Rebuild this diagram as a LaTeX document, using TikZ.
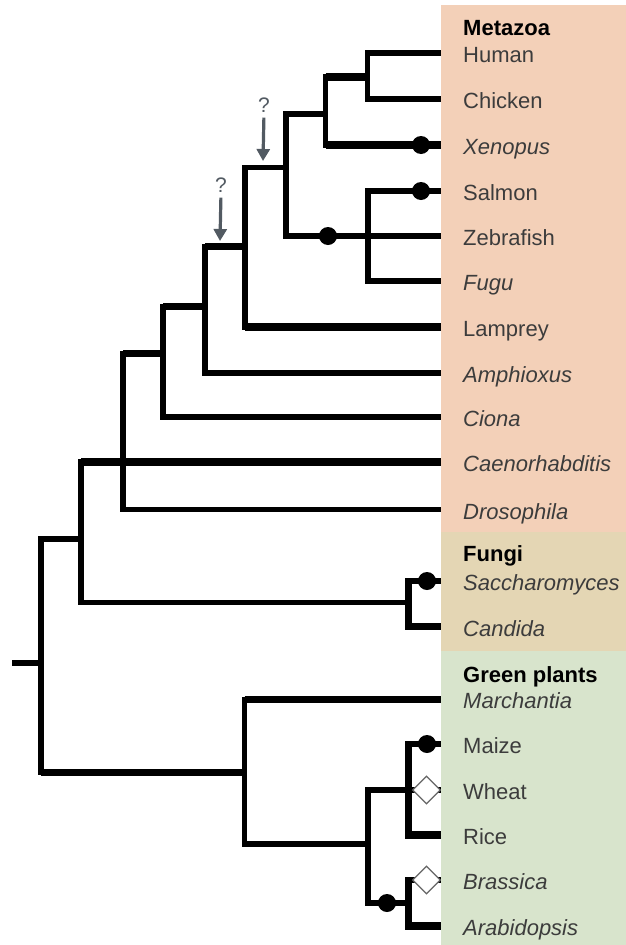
\documentclass[tikz,border=0pt]{standalone}
\usepackage{fontspec}
\setmainfont{Liberation Sans}
\usetikzlibrary{arrows.meta,shapes.geometric}
\definecolor{metaz}{RGB}{243,208,184}
\definecolor{fung}{RGB}{228,214,180}
\definecolor{plnt}{RGB}{216,228,204}
\definecolor{spc}{RGB}{60,60,60}
\definecolor{qgray}{RGB}{82,90,98}
\begin{document}
\begin{tikzpicture}[x=1pt,y=-1pt,
  vt/.style={line width=5.5pt, line cap=rect},
  vtk/.style={line width=7pt, line cap=rect},
  hz/.style={line width=5.5pt, line cap=butt},
  hzk/.style={line width=7.5pt, line cap=butt},
  bdot/.style={circle, fill=black, inner sep=0pt, minimum size=18pt},
  odia/.style={diamond, aspect=1, draw=black!60, fill=white, line width=1.2pt, inner sep=0pt, minimum width=28pt, minimum height=28pt},
  sp/.style={anchor=base west, inner sep=0pt, text=spc, font=\fontsize{22}{26}\selectfont},
  spi/.style={anchor=base west, inner sep=0pt, text=spc, font=\fontsize{22}{26}\selectfont\itshape},
  hd/.style={anchor=base west, inner sep=0pt, text=black, font=\fontsize{22}{26}\selectfont\bfseries},
  qm/.style={inner sep=0pt, text=qgray, font=\fontsize{21}{24}\selectfont},
  qarr/.style={draw=qgray, line width=3.2pt, -{Triangle[width=13pt,length=12pt]}, shorten <=5pt}
]
\useasboundingbox (0,0) rectangle (626,945);

% leaf end points (at panel edge)
\coordinate (Lhuman) at (441,53);
\coordinate (Lchick) at (441,99);
\coordinate (Lxen)   at (441,145);
\coordinate (Lsalm)  at (441,191);
\coordinate (Lzeb)   at (441,236);
\coordinate (Lfugu)  at (441,281);
\coordinate (Llamp)  at (441,327);
\coordinate (Lamph)  at (441,373);
\coordinate (Lciona) at (441,417);
\coordinate (Lcaeno) at (441,462);
\coordinate (Ldroso) at (441,509.5);
\coordinate (Lsacch) at (441,581);
\coordinate (Lcand)  at (441,626.5);
\coordinate (Lmarch) at (441,699.5);
\coordinate (Lmaize) at (441,744);
\coordinate (Lwheat) at (441,790);
\coordinate (Lrice)  at (441,835);
\coordinate (Lbrass) at (441,880);
\coordinate (Larab)  at (441,926);

% internal nodes (vertical x, stem y)
\coordinate (hc)     at (367.5,77);
\coordinate (hcx)    at (325.5,114);
\coordinate (fish)   at (368,236);
\coordinate (tetra)  at (286,167.5);
\coordinate (vert)   at (245,246.5);
\coordinate (olf)    at (205,306.5);
\coordinate (chord)  at (163,353.5);
\coordinate (bil)    at (123,462);
\coordinate (opis)   at (81,539);
\coordinate (fungi)  at (408.5,602.5);
\coordinate (root)   at (41,663);
\coordinate (stub)   at (12,663);
\coordinate (plants) at (244.5,772.5);
\coordinate (angio)  at (368,844);
\coordinate (mono)   at (408.5,790);
\coordinate (eudi)   at (408.5,903);

% verticals
\draw[vt]  (hc|-Lhuman) -- (hc|-Lchick);
\draw[vt]  (hcx|-hc) -- (hcx|-Lxen);
\draw[vt]  (tetra|-hcx) -- (tetra|-fish);
\draw[vt]  (fish|-Lsalm) -- (fish|-Lfugu);
\draw[vt]  (vert|-tetra) -- (vert|-Llamp);
\draw[vt]  (olf|-vert) -- (olf|-Lamph);
\draw[vt]  (chord|-olf) -- (chord|-Lciona);
\draw[vt]  (bil|-chord) -- (bil|-Ldroso);
\draw[vt]  (opis|-Lcaeno) -- (opis|-fungi);
\draw[vtk] (fungi|-Lsacch) -- (fungi|-Lcand);
\draw[vt]  (root|-opis) -- (root|-plants);
\draw[vt]  (plants|-Lmarch) -- (plants|-angio);
\draw[vt]  (angio|-mono) -- (angio|-eudi);
\draw[vtk] (mono|-Lmaize) -- (mono|-Lrice);
\draw[vtk] (eudi|-Lbrass) -- (eudi|-Larab);

% horizontals
\draw[hz]  (hc|-Lhuman) -- (Lhuman);
\draw[hz]  (hc|-Lchick) -- (Lchick);
\draw[hzk] (hcx|-hc) -- (hc);
\draw[hzk] (hcx|-Lxen) -- (Lxen);
\draw[hz]  (tetra|-hcx) -- (hcx);
\draw[hz]  (tetra|-fish) -- (fish);
\draw[hz]  (fish|-Lsalm) -- (Lsalm);
\draw[hz]  (fish) -- (Lzeb);
\draw[hz]  (fish|-Lfugu) -- (Lfugu);
\draw[hz]  (vert|-tetra) -- (tetra);
\draw[hzk] (vert|-Llamp) -- (Llamp);
\draw[hzk] (olf|-vert) -- (vert);
\draw[hz]  (olf|-Lamph) -- (Lamph);
\draw[hzk] (chord|-olf) -- (olf);
\draw[hz]  (chord|-Lciona) -- (Lciona);
\draw[hzk] (bil|-chord) -- (chord);
\draw[hz]  (bil|-Ldroso) -- (Ldroso);
\draw[hzk] (opis|-Lcaeno) -- (bil) -- (Lcaeno);
\draw[hz]  (opis|-fungi) -- (fungi);
\draw[hz]  (fungi|-Lsacch) -- (Lsacch);
\draw[hzk] (fungi|-Lcand) -- (Lcand);
\draw[hz]  (root|-opis) -- (opis);
\draw[hzk] (root|-plants) -- (plants);
\draw[hz]  (stub) -- (root);
\draw[hzk] (plants|-Lmarch) -- (Lmarch);
\draw[hz]  (plants|-angio) -- (angio);
\draw[hz]  (angio|-mono) -- (mono);
\draw[hz]  (angio|-eudi) -- (eudi);
\draw[hz]  (mono|-Lmaize) -- (Lmaize);
\draw[hz]  (mono|-Lwheat) -- (Lwheat);
\draw[hzk] (mono|-Lrice) -- (Lrice);
\draw[hz]  (eudi|-Lbrass) -- (Lbrass);
\draw[hzk] (eudi|-Larab) -- (Larab);

% markers
\node[bdot] (d1) at (421,145) {};
\node[bdot] (d2) at (421,191) {};
\node[bdot] (d3) at (328,236) {};
\node[bdot] (d4) at (427,581) {};
\node[bdot] (d5) at (427,744) {};
\node[bdot] (d6) at (387,903) {};
\node[odia] (w1) at (426.5,790) {};
\node[odia] (w2) at (426.5,880) {};

% question arrows
\node[qm] (q1) at (264,105) {?};
\coordinate (a1) at (263,161);
\draw[qarr] (q1.south) -- (a1);
\node[qm] (q2) at (221,185) {?};
\coordinate (a2) at (220,241);
\draw[qarr] (q2.south) -- (a2);

% panels
\fill[metaz] (441,5) rectangle (626,532);
\fill[fung]  (441,532) rectangle (626,651);
\fill[plnt]  (441,651) rectangle (626,945);

% labels
\node[hd]  (tmeta)  at (463,35)    {Metazoa};
\node[sp]  (thuman) at (463,62.5)  {Human};
\node[sp]  (tchick) at (463,108.5) {Chicken};
\node[spi] (txen)   at (463,154.5) {Xenopus};
\node[sp]  (tsalm)  at (463,200.5) {Salmon};
\node[sp]  (tzeb)   at (463,245.5) {Zebrafish};
\node[spi] (tfugu)  at (463,290.5) {Fugu};
\node[sp]  (tlamp)  at (463,336.5) {Lamprey};
\node[spi] (tamph)  at (463,382.5) {Amphioxus};
\node[spi] (tciona) at (463,426.5) {Ciona};
\node[spi] (tcaeno) at (463,471.5) {Caenorhabditis};
\node[spi] (tdroso) at (463,519)   {Drosophila};
\node[hd]  (tfungi) at (463,561)   {Fungi};
\node[spi] (tsacch) at (463,590.5) {Saccharomyces};
\node[spi] (tcand)  at (463,636)   {Candida};
\node[hd]  (tgreen) at (463,682)   {Green plants};
\node[spi] (tmarch) at (463,708.5) {Marchantia};
\node[sp]  (tmaize) at (463,753.5) {Maize};
\node[sp]  (twheat) at (463,799.5) {Wheat};
\node[sp]  (trice)  at (463,844.5) {Rice};
\node[spi] (tbrass) at (463,889.5) {Brassica};
\node[spi] (tarab)  at (463,935.5) {Arabidopsis};
\end{tikzpicture}
\end{document}
